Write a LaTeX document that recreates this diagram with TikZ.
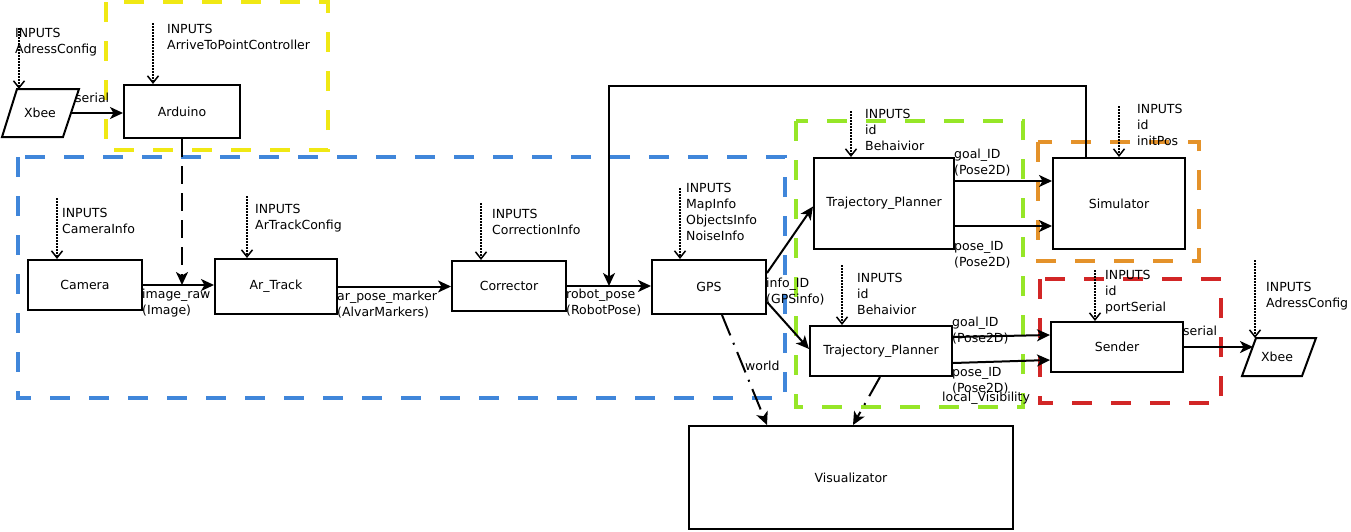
\documentclass[tikz,border=0pt]{standalone}
\usepackage{fontspec}
\setmainfont{DejaVu Sans}
\usetikzlibrary{arrows.meta,calc}
\definecolor{cyellow}{RGB}{240,232,20}
\definecolor{cblue}{RGB}{64,134,218}
\definecolor{cgreen}{RGB}{150,230,40}
\definecolor{corange}{RGB}{228,146,42}
\definecolor{cred}{RGB}{210,38,38}
\newcommand{\ls}{\rule{0pt}{10pt}}
\begin{document}
\begin{tikzpicture}[x=1pt,y=-1pt,
 every node/.style={font=\fontsize{12.5}{16}\selectfont},
 box/.style={draw, line width=2pt, fill=white, inner sep=0pt},
 grp/.style={line width=4pt, dash pattern=on 20pt off 19pt},
 arr/.style={line width=2pt, -{Stealth[length=13pt,width=12pt,inset=3.5pt]}},
 inarr/.style={line width=1.5pt, dash pattern=on 1.5pt off 1.5pt, -{Straight Barb[length=7pt,width=11pt]}},
 dasharr/.style={arr, dash pattern=on 18pt off 9pt},
 dotdasharr/.style={arr, dash pattern=on 22pt off 8pt on 2pt off 8pt},
 lbl/.style={anchor=north west, inner sep=0pt, align=left},
]
\useasboundingbox (0,0) rectangle (1351,531);

% group frames
\draw[grp, cyellow] (106,2) rectangle (328,150);
\draw[grp, cblue] (18,157) rectangle (785,398);
\draw[grp, cgreen] (796,121) rectangle (1023,407);
\draw[grp, corange] (1038,142) rectangle (1199,261);
\draw[grp, cred] (1040,279) rectangle (1221,403);

% parallelograms
\draw[line width=2pt, fill=white] (17,89) -- (79,89) -- (63,137) -- (2,137) -- cycle;
\node (xbeeL) at (40,113) {Xbee};
\draw[line width=2pt, fill=white] (1256,338) -- (1316,338) -- (1302,376) -- (1242,376) -- cycle;
\node (xbeeR) at (1277,357) {Xbee};
\coordinate (xbeeLr) at (71,113);
\coordinate (xbeeLt) at (19,89);
\coordinate (xbeeRl) at (1253,348);
\coordinate (xbeeRt) at (1255,338);

% boxes
\node[box, minimum width=116pt, minimum height=53pt] (arduino) at (182,111.5) {Arduino};
\node[box, minimum width=114pt, minimum height=50pt] (camera) at (85,285) {Camera};
\node[box, minimum width=122pt, minimum height=55pt] (artrack) at (276,286.5) {Ar\_Track};
\node[box, minimum width=114pt, minimum height=50pt] (corrector) at (509,286) {Corrector};
\node[box, minimum width=114pt, minimum height=54pt] (gps) at (709,287) {GPS};
\node[box, minimum width=140pt, minimum height=91pt] (tp1) at (884,203.5) {Trajectory\_Planner};
\node[box, minimum width=132pt, minimum height=91pt] (sim) at (1119,203.5) {Simulator};
\node[box, minimum width=142pt, minimum height=50pt] (tp2) at (881,351) {Trajectory\_Planner};
\node[box, minimum width=132pt, minimum height=50pt] (sender) at (1117,347) {Sender};
\node[box, minimum width=324pt, minimum height=103pt] (vis) at (851,477.5) {Visualizator};

% input arrows
\coordinate (iXL) at (19,28);
\coordinate (iAr) at (153,23);
\coordinate (iCam) at (57,198);
\coordinate (iAT) at (247,196);
\coordinate (iCor) at (481,203);
\coordinate (iGPS) at (680,188);
\coordinate (iTP1) at (851,111);
\coordinate (iSim) at (1119,106);
\coordinate (iTP2) at (842,265);
\coordinate (iSen) at (1095,270);
\coordinate (iXR) at (1255,260);
\draw[inarr] (iXL) -- (xbeeLt);
\draw[inarr] (iAr) -- (iAr |- arduino.north);
\draw[inarr] (iCam) -- (iCam |- camera.north);
\draw[inarr] (iAT) -- (iAT |- artrack.north);
\draw[inarr] (iCor) -- (iCor |- corrector.north);
\draw[inarr] (iGPS) -- (iGPS |- gps.north);
\draw[inarr] (iTP1) -- (iTP1 |- tp1.north);
\draw[inarr] (iSim) -- (iSim |- sim.north);
\draw[inarr] (iTP2) -- (iTP2 |- tp2.north);
\draw[inarr] (iSen) -- (iSen |- sender.north);
\draw[inarr] (iXR) -- (xbeeRt);

% connectors
\draw[arr] (xbeeLr) -- (xbeeLr -| arduino.west);
\draw[dasharr] (arduino.south) -- (arduino.south |- camera.east);
\draw[arr] (camera.east) -- (camera.east -| artrack.west);
\draw[arr] (artrack.east) -- (artrack.east -| corrector.west);
\draw[arr] (corrector.east) -- (corrector.east -| gps.west);
\coordinate (fb1) at (1086,86);
\coordinate (fb2) at (609,86);
\draw[arr] (fb1 |- sim.north) -- (fb1) -- (fb2) -- (fb2 |- corrector.east);
\draw[arr] ($(gps.east)+(0,-14)$) -- ($(tp1.west)+(0,3)$);
\draw[arr] ($(gps.east)+(0,15)$) -- ($(tp2.west)+(0,-2)$);
\draw[arr] ($(tp1.east)+(0,-22.5)$) -- ($(sim.west)+(0,-22.5)$);
\draw[arr] ($(tp1.east)+(0,22.5)$) -- ($(sim.west)+(0,22.5)$);
\draw[arr] ($(tp2.east)+(0,-14)$) -- ($(sender.west)+(0,-12)$);
\draw[arr] ($(tp2.east)+(0,12)$) -- ($(sender.west)+(0,13)$);
\draw[arr] (sender.east) -- (xbeeRl |- sender.east);
\draw[dotdasharr] ($(gps.south)+(13,0)$) -- ($(vis.north west)+(79,0)$);
\draw[dotdasharr] ($(tp2.south)+(-1,0)$) -- ($(vis.north)+(2,0)$);

% labels
\node[lbl] (lXL) at (15,27) {\ls INPUTS\\AdressConfig};
\node[lbl] (lAr) at (167,23) {\ls INPUTS\\ArriveToPointController};
\node[lbl] (lCam) at (62,207) {\ls INPUTS\\CameraInfo};
\node[lbl] (lAT) at (255,203) {\ls INPUTS\\ArTrackConfig};
\node[lbl] (lCor) at (492,208) {\ls INPUTS\\CorrectionInfo};
\node[lbl] (lGPS) at (686,182) {\ls INPUTS\\MapInfo\\ObjectsInfo\\NoiseInfo};
\node[lbl] (lTP1) at (865,108) {\ls INPUTS\\id\\Behaivior};
\node[lbl] (lSim) at (1137,103) {\ls INPUTS\\id\\initPos};
\node[lbl] (lTP2) at (857,272) {\ls INPUTS\\id\\Behaivior};
\node[lbl] (lSen) at (1105,269) {\ls INPUTS\\id\\portSerial};
\node[lbl] (lXR) at (1266,281) {\ls INPUTS\\AdressConfig};
\node[lbl] (lImg) at (142,288) {\ls image\_raw\\(Image)};
\node[lbl] (lAPM) at (337,290) {\ls ar\_pose\_marker\\(AlvarMarkers)};
\node[lbl] (lRP) at (566,288) {\ls robot\_pose\\(RobotPose)};
\node[lbl] (lInfo) at (766,277) {\ls info\_ID\\(GPSinfo)};
\node[lbl] (lG1) at (954,148) {\ls goal\_ID\\(Pose2D)};
\node[lbl] (lP1) at (954,240) {\ls pose\_ID\\(Pose2D)};
\node[lbl] (lG2) at (952,316) {\ls goal\_ID\\(Pose2D)};
\node[lbl] (lP2) at (952,366) {\ls pose\_ID\\(Pose2D)};
\node[lbl] (lLV) at (942,391) {\ls local\_Visibility};
\node[lbl] (lW) at (745,360) {\ls world};
\node[lbl] (lSL) at (75,92) {\ls serial};
\node[lbl] (lSR) at (1183,325) {\ls serial};
\end{tikzpicture}
\end{document}
